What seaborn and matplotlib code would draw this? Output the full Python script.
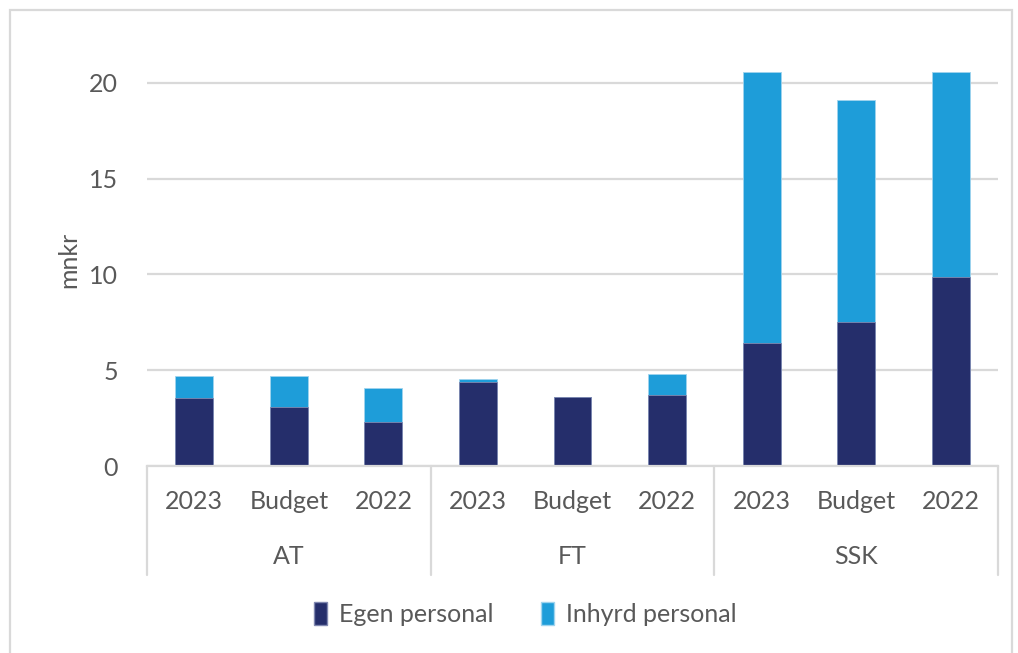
import numpy as np
import pandas as pd
import matplotlib.pyplot as plt
import seaborn as sns
from matplotlib.patches import Patch, Rectangle
from matplotlib.lines import Line2D

sns.set_style("white")
plt.rcParams['font.family'] = ['Lato', 'DejaVu Sans']

groups = ['AT', 'FT', 'SSK']
periods = ['2023', 'Budget', '2022']
egen = [3.55, 3.08, 2.28, 4.39, 3.62, 3.71, 6.41, 7.52, 9.87]
inhyrd = [1.15, 1.62, 1.78, 0.14, 0.0, 1.11, 14.15, 11.59, 10.69]

dark = '#252E6B'
light = '#1E9DD9'
grey_text = '#595959'
grid_col = '#D9D9D9'
fs = 18

keys = [f'{g} {p}' for g in groups for p in periods]
df = pd.DataFrame({'key': keys, 'egen': egen, 'inhyrd': inhyrd})
df['total'] = df['egen'] + df['inhyrd']

fig = plt.figure(figsize=(10.18, 6.53), dpi=100)
ax = fig.add_axes([147 / 1018, 1 - 466 / 653, 851 / 1018, 412 / 653])

sns.barplot(data=df, x='key', y='total', order=keys, color=light, width=0.4,
            saturation=1, edgecolor='#9FD4EE', linewidth=0.6, ax=ax)
sns.barplot(data=df, x='key', y='egen', order=keys, color=dark, width=0.4,
            saturation=1, edgecolor='#8088B0', linewidth=0.6, ax=ax)

ax.set_xlim(-0.5, len(keys) - 0.5)
ax.set_ylim(0, 21.5)
ax.set_yticks([0, 5, 10, 15, 20])
ax.yaxis.grid(True, color=grid_col, linewidth=1.6)
ax.set_axisbelow(True)
for s in ['top', 'right', 'left']:
    ax.spines[s].set_visible(False)
ax.spines['bottom'].set_color(grid_col)
ax.spines['bottom'].set_linewidth(1.6)
ax.tick_params(axis='y', length=0, pad=21, labelsize=fs, labelcolor=grey_text)
ax.tick_params(axis='x', length=0, pad=17, labelsize=fs, labelcolor=grey_text)
ax.set_xticks(range(len(keys)))
ax.set_xticklabels(periods * len(groups))
ax.set_xlabel('')
ax.set_ylabel('mnkr', fontsize=fs, color=grey_text, labelpad=6)

# group separators and group labels below the axis
trans = ax.get_xaxis_transform()
for b in [-0.5, 2.5, 5.5, 8.5]:
    ax.add_line(Line2D([b, b], [0, -109 / 412], transform=trans, color=grid_col,
                       linewidth=1.6, clip_on=False))
for i, g in enumerate(groups):
    ax.text(i * 3 + 1, -91 / 412, g, transform=trans, ha='center', va='center',
            fontsize=fs, color=grey_text)

handles = [Patch(facecolor=dark, edgecolor='#8088B0', label='Egen personal'),
           Patch(facecolor=light, edgecolor='#9FD4EE', label='Inhyrd personal')]
fig.legend(handles=handles, loc='center', bbox_to_anchor=(525 / 1018, 1 - 614 / 653),
           ncol=2, frameon=False, fontsize=fs, labelcolor=grey_text,
           handlelength=0.55, handleheight=1.0, handletextpad=0.45, columnspacing=1.9)

# outer chart border
fig.add_artist(Rectangle((10 / 1018, -0.01), 1002 / 1018, 1 - 10 / 653 + 0.01,
                         transform=fig.transFigure, fill=False, edgecolor=grid_col,
                         linewidth=1.6))

fig.savefig('out.png', dpi=100)
